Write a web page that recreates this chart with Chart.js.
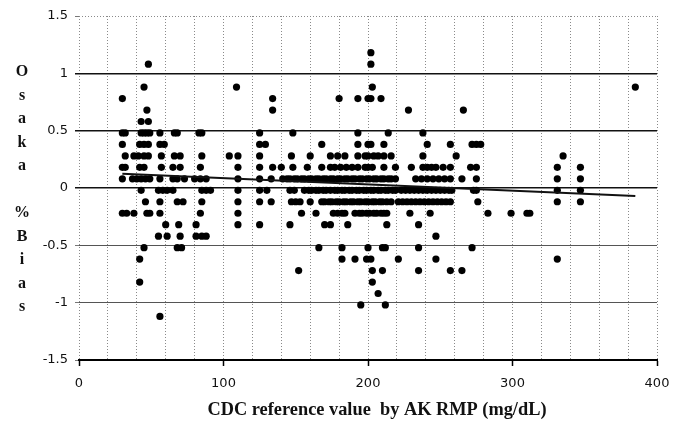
<!DOCTYPE html>
<html>
<head>
<meta charset="utf-8">
<script src="https://cdn.jsdelivr.net/npm/chart.js@4"></script>
<style>
  html, body { margin: 0; padding: 0; background: #fff; }
</style>
</head>
<body>
<canvas id="chart" width="680" height="421"></canvas>
<script>
// % bias rows (y) and the CDC reference values (x) that sit on each row
const biasLevels = [1.18, 1.08, 0.88, 0.78, 0.68, 0.58, 0.48, 0.38, 0.28, 0.18, 0.08,
  -0.02, -0.12, -0.22, -0.32, -0.42, -0.52, -0.62, -0.72, -0.82, -0.92, -1.02, -1.12];

const ref118 = [202];
const ref108 = [48, 202];
const ref088 = [45, 109, 203, 385];
const ref078 = [30, 134, 180, 193, 200, 202, 209];
const ref068 = [47, 134, 228, 266];
const ref058 = [43, 48];
const ref048 = [30, 32, 43, 45, 47, 49, 56, 66, 68, 83, 85, 125, 148, 193, 214, 238];
const ref038 = [30, 42, 45, 48, 56, 59, 125, 129, 168, 193, 200, 202, 211, 241, 257, 272, 275, 278];
const ref028 = [32, 38, 41, 45, 48, 57, 66, 70, 85, 104, 110, 125, 147, 160, 174, 179, 184, 193, 198,
  200, 204, 207, 211, 216, 238, 261, 335];
const ref018 = [30, 32, 42, 45, 57, 65, 70, 84, 110, 125, 134, 140, 148, 158, 168, 174, 177, 181, 185,
  189, 193, 198, 200, 203, 211, 219, 230, 238, 241, 244, 247, 252, 257, 271, 275, 331, 347];
const ref008 = [30, 37, 40, 43, 46, 49, 56, 65, 68, 73, 80, 84, 88, 110, 125, 133, 141, 144, 146, 149,
  151, 154, 156, 159, 161, 164, 166, 169, 171, 174, 176, 179, 181, 184, 186, 189, 191, 194, 196, 199,
  201, 204, 206, 209, 211, 214, 216, 219, 233, 237, 241, 245, 249, 253, 257, 265, 275, 331, 347];
const refM002 = [43, 55, 58, 61, 65, 85, 88, 91, 110, 125, 130, 146, 149, 156, 159, 161, 164, 166, 169,
  171, 174, 177, 179, 182, 184, 187, 189, 192, 194, 197, 199, 202, 204, 207, 209, 212, 214, 217, 219,
  223, 226, 229, 232, 235, 238, 241, 244, 247, 250, 253, 256, 258, 273, 275, 331, 347];
const refM012 = [46, 56, 68, 72, 85, 110, 125, 133, 147, 150, 153, 160, 168, 170, 173, 175, 178, 180,
  183, 185, 188, 190, 193, 195, 198, 200, 203, 205, 208, 210, 213, 216, 221, 224, 227, 230, 233, 236,
  239, 242, 245, 248, 251, 254, 257, 276, 331, 347];
const refM022 = [30, 33, 38, 47, 49, 56, 84, 110, 154, 164, 176, 179, 182, 184, 191, 194, 196, 199, 201,
  204, 206, 209, 211, 213, 229, 243, 283, 299, 310, 312];
const refM032 = [60, 69, 81, 110, 125, 146, 170, 174, 186, 213, 235];
const refM042 = [55, 61, 70, 81, 85, 88, 247];
const refM052 = [45, 68, 71, 166, 182, 200, 210, 212, 235, 272];
const refM062 = [42, 182, 191, 199, 202, 221, 247, 331];
const refM072 = [152, 203, 210, 235, 257, 265];
const refM082 = [42, 203];
const refM092 = [207];
const refM102 = [195, 212];
const refM112 = [56];

const refRows = [ref118, ref108, ref088, ref078, ref068, ref058, ref048, ref038, ref028, ref018, ref008,
  refM002, refM012, refM022, refM032, refM042, refM052, refM062, refM072, refM082, refM092, refM102, refM112];

// regression line end points
const trendX = [30, 385];
const trendY = [0.125, -0.07];

const yTitle = "Osaka %Bias";
const xTitle = "CDC reference value  by AK RMP (mg/dL)";

const points = [];
biasLevels.forEach((b, i) => {
  refRows[i].forEach(x => points.push({ x: x, y: b }));
});

// axis titles: stacked letters on the left, bold serif under the x axis
const titlePlugin = {
  id: "titles",
  afterDraw(chart) {
    const c = chart.ctx;
    const area = chart.chartArea;
    c.save();
    c.fillStyle = "#111";
    c.textAlign = "center";
    c.textBaseline = "middle";
    c.font = 'bold 16px "Liberation Serif"';
    yTitle.split("").forEach((ch, i) => {
      if (ch !== " ") c.fillText(ch, 22, 72 + 23.5 * i);
    });
    c.font = 'bold 18px "Liberation Serif"';
    const w = c.measureText(xTitle).width;
    c.translate((area.left + area.right) / 2 + 9, 410);
    c.scale(339 / w, 1);
    c.fillText(xTitle, 0, 0);
    c.restore();
  }
};

const tickFont = { family: '"DejaVu Sans"', size: 13 };

new Chart(document.getElementById("chart").getContext("2d"), {
  type: "scatter",
  data: {
    datasets: [
      {
        data: points,
        pointRadius: 3.6,
        pointBackgroundColor: "#000",
        pointBorderWidth: 0,
        order: 2
      },
      {
        type: "line",
        data: trendX.map((x, i) => ({ x: x, y: trendY[i] })),
        borderColor: "#111",
        borderWidth: 2,
        pointRadius: 0,
        order: 1
      }
    ]
  },
  options: {
    animation: false,
    responsive: false,
    layout: { padding: { left: 0, right: 23, top: 16, bottom: 0 } },
    plugins: { legend: { display: false }, tooltip: { enabled: false } },
    scales: {
      x: {
        type: "linear",
        min: 0,
        max: 400,
        afterFit: s => { s.height = 61; },
        ticks: {
          stepSize: 20,
          autoSkip: false,
          maxRotation: 0,
          padding: 10,
          color: "#111",
          font: tickFont,
          callback: v => (v % 100 === 0 ? v : "")
        },
        grid: {
          color: "#8a8a8a",
          lineWidth: 1,
          tickLength: 6,
          tickWidth: 1.5,
          tickColor: c => (c.tick && c.tick.value % 100 === 0 ? "#000" : "rgba(0,0,0,0)")
        },
        border: { display: true, color: "#000", width: 2, dash: [1, 2] }
      },
      y: {
        min: -1.5,
        max: 1.5,
        afterFit: s => { s.width = 79; },
        ticks: {
          stepSize: 0.5,
          padding: 7,
          color: "#111",
          font: tickFont,
          callback: v => String(v)
        },
        grid: {
          tickLength: 4,
          color: c => {
            const v = c.tick ? c.tick.value : 0;
            if (v === 1.5) return "#8a8a8a";
            if (v === -1.5) return "#000";
            return v >= 0 ? "#111" : "#555";
          },
          tickColor: c => {
            const v = c.tick ? c.tick.value : 0;
            return v >= 0 && v < 1.5 ? "#111" : "#777";
          },
          lineWidth: c => {
            const v = c.tick ? c.tick.value : 0;
            return v >= 0 && v < 1.5 ? 1.5 : 1;
          }
        },
        border: {
          display: false,
          dash: c => (c.tick && c.tick.value === 1.5 ? [1, 2] : [])
        }
      }
    }
  },
  plugins: [titlePlugin]
});
</script>
</body>
</html>
